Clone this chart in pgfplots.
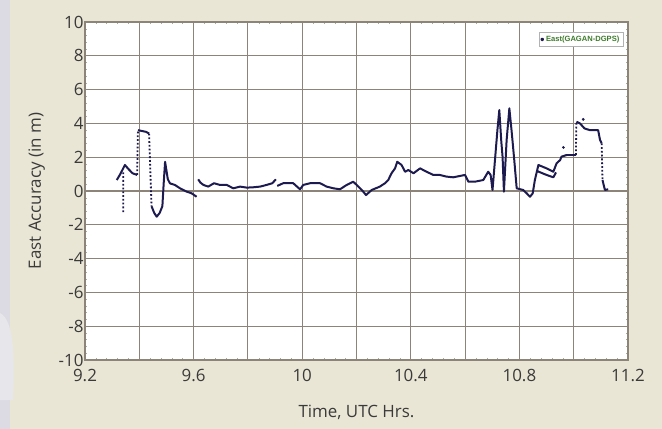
\documentclass[border=0pt]{standalone}
\usepackage{pgfplots}
\pgfplotsset{compat=1.18}
\usepackage{fontspec}
\setmainfont{Open Sans}
\newfontfamily\legfont{Liberation Sans}

\definecolor{bgbeige}{HTML}{E9E6D6}
\definecolor{edgegray}{HTML}{DCDBE3}
\definecolor{gridc}{HTML}{8C8478}
\definecolor{navy}{HTML}{1C1A4E}
\definecolor{leggreen}{HTML}{3E7B2C}
\definecolor{txt}{HTML}{3A3A3A}

\begin{document}
\begin{tikzpicture}
  % panel behind the chart
  \fill[bgbeige] (-85bp,-69bp) rectangle (577bp,360bp);
  \fill[edgegray] (-85bp,-69bp) rectangle (-75bp,360bp);
  \fill[edgegray!70] (-85bp,47bp) .. controls (-72bp,40bp) and (-70bp,10bp) .. (-72bp,-40bp)
        -- (-85bp,-40bp) -- cycle;
  \begin{axis}[
      scale only axis,
      width=543bp, height=338bp,
      xmin=9.2, xmax=11.2,
      ymin=-10, ymax=10,
      xtick={9.2,9.4,9.6,9.8,10,10.2,10.4,10.6,10.8,11,11.2},
      xticklabels={9.2,,9.6,,10,,10.4,,10.8,,11.2},
      ytick={-10,-8,...,10},
      minor x tick num=4,
      minor y tick num=4,
      grid=major,
      major grid style={gridc, line width=1.1pt},
      major tick length=0pt,
      minor tick length=2.5pt,
      minor tick style={gridc!70, line width=0.5pt},
      tick align=inside,
      axis line style={gridc, line width=1.1pt},
      axis background/.style={fill=white},
      font=\fontsize{17}{20}\selectfont,
      tick label style={text=txt},
      /pgf/number format/assume math mode=true,
      yticklabel style={xshift=2bp},
      xticklabel style={yshift=-6bp},
      xlabel={Time, UTC Hrs.},
      ylabel={East Accuracy (in m)},
      label style={text=txt},
      xlabel style={yshift=-16bp},
      ylabel style={yshift=7bp},
      unbounded coords=jump,
      legend style={at={(0.991,0.970)}, anchor=north east,
        font=\legfont\bfseries\fontsize{7.6}{8}\selectfont,
        text=leggreen, draw=gray!60, fill=white, inner sep=1.6pt},
      legend image code/.code={\fill[navy] (0.12cm,0) circle (0.9pt);},
    ]
    % main trace (solid parts)
    \addplot[navy, line width=2pt, line join=round] coordinates {
      (9.317,0.65) (9.330,1.00) (9.347,1.54) (9.360,1.30) (9.375,1.05) (9.392,0.95)
      (nan,nan)
      (9.395,3.60) (9.410,3.55) (9.425,3.50) (9.436,3.40)
      (nan,nan)
      (9.445,-0.90) (9.455,-1.30) (9.464,-1.52) (9.475,-1.30) (9.485,-0.90)
      (9.490,0.50) (9.495,1.73) (9.505,0.70) (9.513,0.45) (9.531,0.36)
      (9.550,0.16) (9.575,-0.04) (9.593,-0.14) (9.611,-0.34)
      (nan,nan)
      (9.617,0.69) (9.625,0.50) (9.636,0.36) (9.654,0.26) (9.675,0.46)
      (9.697,0.36) (9.722,0.36) (9.746,0.16) (9.771,0.26) (9.796,0.20)
      (9.820,0.22) (9.845,0.26) (9.869,0.36) (9.890,0.46) (9.903,0.69)
      (nan,nan)
      (9.908,0.30) (9.930,0.46) (9.967,0.46) (9.992,0.10) (10.004,0.36)
      (10.029,0.46) (10.066,0.46) (10.090,0.26) (10.115,0.16) (10.139,0.10)
      (10.164,0.36) (10.188,0.55) (10.207,0.26) (10.225,-0.04) (10.235,-0.24)
      (10.256,0.06) (10.286,0.26) (10.305,0.46) (10.317,0.65) (10.329,1.05)
      (10.342,1.34) (10.350,1.73) (10.366,1.54) (10.379,1.14) (10.391,1.24)
      (10.410,1.05) (10.434,1.34) (10.458,1.14) (10.483,0.95) (10.507,0.95)
      (10.532,0.85) (10.556,0.81) (10.581,0.89) (10.600,0.95) (10.612,0.55)
      (10.636,0.55) (10.667,0.65) (10.685,1.14) (10.694,0.95) (10.701,0.06)
      (10.719,3.60) (10.726,4.79) (10.733,3.00) (10.738,2.03) (10.743,-0.04)
      (10.753,3.02) (10.763,4.89) (10.771,3.60) (10.780,2.03) (10.790,0.16)
      (10.814,0.06) (10.827,-0.14) (10.839,-0.34) (10.849,-0.14) (10.857,0.65)
      (10.870,1.54) (10.900,1.34) (10.925,1.14) (10.937,1.64) (10.950,1.83)
      (10.955,2.03) (10.974,2.13) (10.998,2.13) (11.008,2.13)
      (nan,nan)
      (10.862,1.20) (10.900,0.95) (10.925,0.81) (10.935,1.10)
      (nan,nan)
      (11.010,4.10) (11.023,4.00) (11.040,3.70) (11.060,3.60) (11.090,3.60)
      (11.097,3.02) (11.103,2.82)
      (nan,nan)
      (11.106,0.65) (11.115,0.06) (11.127,0.10)
    };
    \addlegendentry{East(GAGAN-DGPS)}
    % sparse, dotted jumps
    \addplot[navy, line width=1.8pt, dotted, forget plot] coordinates {
      (9.341,1.10) (9.341,-1.25)
      (nan,nan)
      (9.392,0.95) (9.395,3.60)
      (nan,nan)
      (9.436,3.40) (9.445,-0.90)
      (nan,nan)
      (11.008,2.13) (11.010,4.10)
      (nan,nan)
      (11.103,2.82) (11.106,0.65)
    };
    % isolated points
    \addplot[only marks, mark=*, mark size=1.2pt, navy, forget plot] coordinates {
      (10.962,2.58) (11.035,4.24)
    };
  \end{axis}
  \pgfresetboundingbox
  \path[use as bounding box] (-85bp,-69bp) rectangle (577bp,360bp);
\end{tikzpicture}
\end{document}
